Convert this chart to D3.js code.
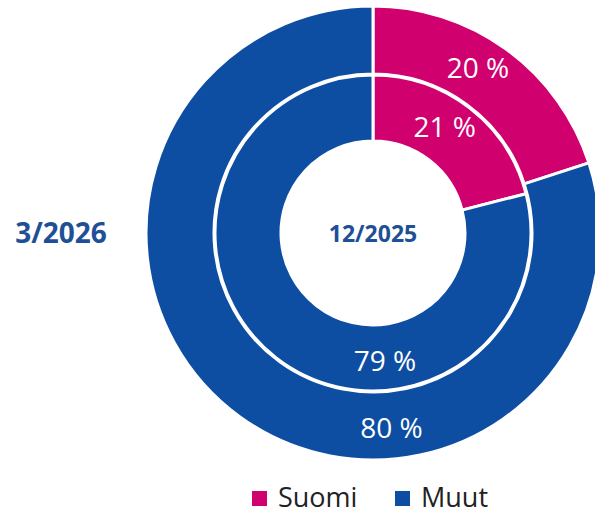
<!DOCTYPE html>
<meta charset="utf-8">
<style>
body { margin: 0; background: #fff; }
text { font-family: "Open Sans", "Noto Sans", sans-serif; }
</style>
<body>
<div id="chart"></div>
<script src="https://cdn.jsdelivr.net/npm/d3@7"></script>
<script>

var WIDTH = 595;
var HEIGHT = 515;
var CX = 373;
var CY = 233;

var categories = ['Suomi', 'Muut'];
var outerValues = [20, 80];   // 3/2026
var innerValues = [21, 79];   // 12/2025
var outerLabel = '3/2026';
var innerLabel = '12/2025';

var color = d3.scaleOrdinal()
    .domain(categories)
    .range(['#d0006f', '#0d4ea3']);

var svg = d3.select('#chart').append('svg')
    .attr('width', WIDTH)
    .attr('height', HEIGHT);

var pie = d3.pie().sort(null).value(function(d) { return d.v; });

var rings = [
  {values: outerValues, r0: 159, r1: 227},
  {values: innerValues, r0: 92, r1: 158}
];

var g = svg.append('g').attr('transform', 'translate(' + CX + ',' + CY + ')');

rings.forEach(function(ring) {
  var data = pie(categories.map(function(c, i) { return {c: c, v: ring.values[i]}; }));
  var arc = d3.arc().innerRadius(ring.r0).outerRadius(ring.r1);
  g.selectAll(null).data(data).enter().append('path')
      .attr('d', arc)
      .attr('fill', function(d) { return color(d.data.c); })
      .attr('stroke', '#fff')
      .attr('stroke-width', 3);

  // big slices get their label near the bottom, like the original
  var rl = (ring.r0 + ring.r1) / 2 + 3;
  g.selectAll(null).data(data).enter().append('text')
      .attr('transform', function(d) {
        var a = (d.endAngle - d.startAngle) > Math.PI ? Math.PI * 0.97 : (d.startAngle + d.endAngle) / 2 * 0.9;
        return 'translate(' + (rl * Math.sin(a)) + ',' + (-rl * Math.cos(a)) + ')';
      })
      .attr('text-anchor', 'middle')
      .attr('dy', '0.36em')
      .attr('fill', '#fff')
      .style('font-size', '28px')
      .text(function(d) { return d.data.v + ' %'; });
});

g.append('text')
    .attr('text-anchor', 'middle')
    .attr('y', 1)
    .attr('dy', '0.36em')
    .attr('fill', '#1f4f96')
    .style('font-size', '23px')
    .style('font-weight', 'bold')
    .text(innerLabel);

svg.append('text')
    .attr('x', 61)
    .attr('y', CY)
    .attr('text-anchor', 'middle')
    .attr('dy', '0.36em')
    .attr('fill', '#1f4f96')
    .style('font-size', '28px')
    .style('font-weight', 'bold')
    .text(outerLabel);

// legend
var legendX = [252, 395];
var legend = svg.selectAll('.legend').data(categories).enter().append('g')
    .attr('class', 'legend')
    .attr('transform', function(d, i) { return 'translate(' + legendX[i] + ',491)'; });
legend.append('rect')
    .attr('width', 15)
    .attr('height', 15)
    .attr('fill', function(d) { return color(d); });
legend.append('text')
    .attr('x', 26)
    .attr('y', 6)
    .attr('dy', '0.36em')
    .attr('fill', '#222')
    .style('font-size', '27px')
    .text(function(d) { return d; });

</script>
